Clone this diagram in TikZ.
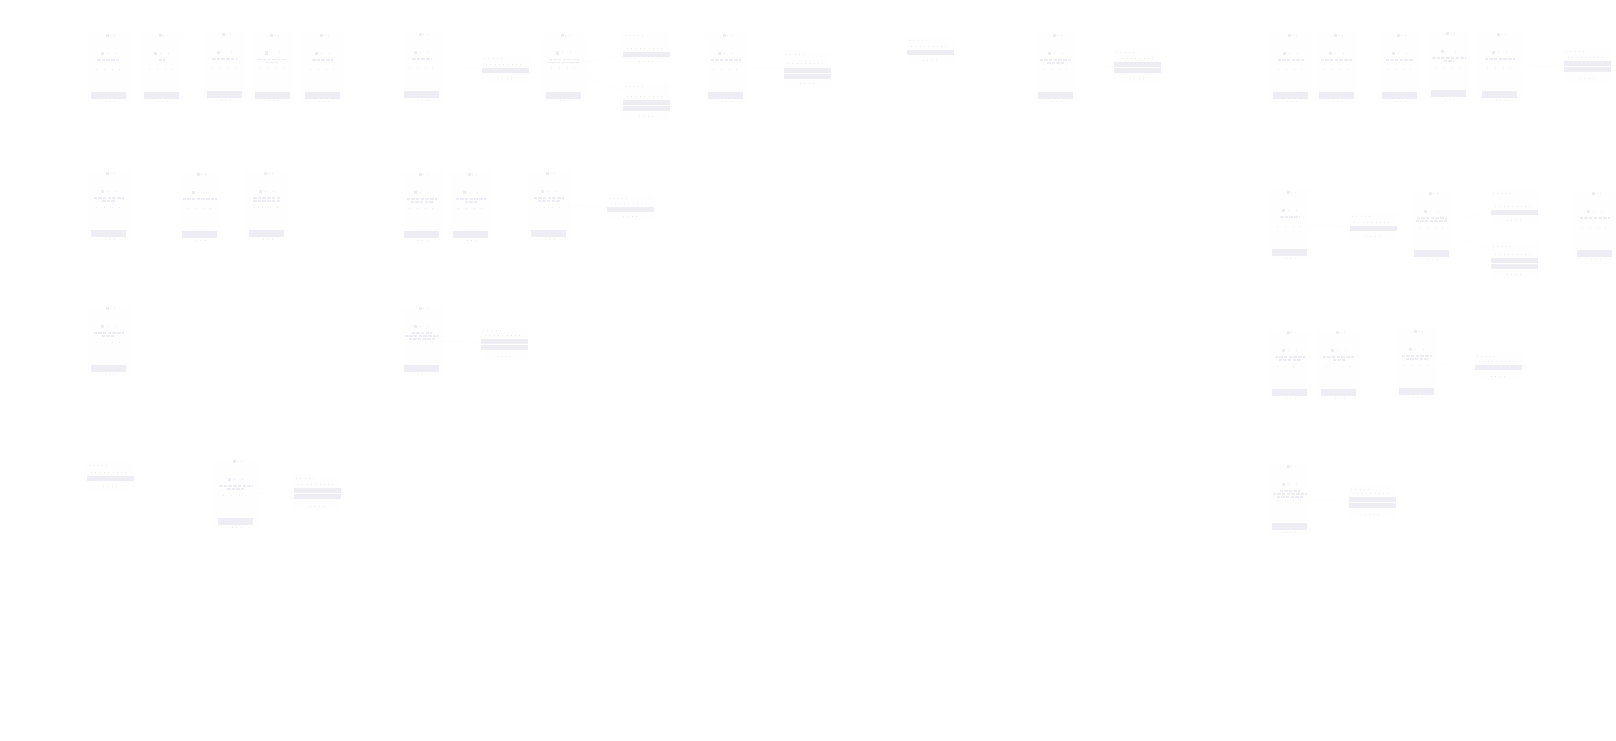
\documentclass[tikz,border=0pt]{standalone}
\definecolor{cardc}{HTML}{FEFEFE}
\definecolor{btnc}{HTML}{EDEDF3}
\definecolor{markc}{HTML}{ECECF2}
\definecolor{linkc}{HTML}{FDFDFE}
\tikzset{
  x=1pt,y=-1pt,
  cardbox/.style={fill=cardc,draw=none,inner sep=0pt,outer sep=0pt,minimum width=42pt,minimum height=69pt},
  dlgbox/.style={fill=cardc,draw=none,inner sep=0pt,outer sep=0pt},
  titlebar/.style={draw=markc,line width=1.2pt,dash pattern=on 3.5pt off 1.2pt},
  smalltext/.style={draw=markc,line width=.7pt,dash pattern=on .8pt off 3.5pt},
  sparsetext/.style={draw=markc,line width=.7pt,dash pattern=on .8pt off 7pt},
  linkline/.style={draw=linkc,line width=.8pt}
}
% name, button left, button top, width of the three title lines (0 = none)
\newcommand\phonecard[6]{%
  \node[cardbox] (#1) at ({#2+18},{#3-24.5}) {};
  \fill[btnc] (#2,#3) rectangle ({#2+35},{#3+7});
  \fill[markc] ({#2+15},{#3-58}) rectangle ({#2+18},{#3-55});
  \draw[smalltext] ({#2+18.5},{#3-56.5}) -- ({#2+23},{#3-56.5});
  \fill[markc] ({#2+10},{#3-40.5}) rectangle ({#2+13},{#3-37});
  \draw[sparsetext] ({#2+16},{#3-39}) -- ({#2+25},{#3-39});
  \ifdim#4pt>0pt \draw[titlebar] ({#2+17.5-#4/2},{#3-32}) -- ({#2+17.5+#4/2},{#3-32}); \fi
  \ifdim#5pt>0pt \draw[titlebar] ({#2+17.5-#5/2},{#3-29}) -- ({#2+17.5+#5/2},{#3-29}); \fi
  \ifdim#6pt>0pt \draw[titlebar] ({#2+17.5-#6/2},{#3-26}) -- ({#2+17.5+#6/2},{#3-26}); \fi
  \draw[sparsetext] ({#2+5},{#3-23}) -- ({#2+30},{#3-23});
  \draw[smalltext] ({#2+14},{#3+9}) -- ({#2+23},{#3+9});
}
% name, left, top, bottom, first button top, number of buttons
\newcommand\dialogcard[6]{%
  \node[dlgbox,minimum width=47pt,minimum height={(#4-#3)*1pt}] (#1) at ({#2+23.5},{(#3+#4)/2}) {};
  \draw[smalltext] ({#2+2},{#3+3}) -- ({#2+20},{#3+3});
  \draw[smalltext] ({#2+4},{#5-4}) -- ({#2+40},{#5-4});
  \fill[btnc] (#2,#5) rectangle ({#2+47},{#5+5});
  \ifnum#6>1 \fill[btnc] (#2,{#5+6}) rectangle ({#2+47},{#5+11}); \fi
  \draw[smalltext] ({#2+16},{#4-4}) -- ({#2+30},{#4-4});
}
\begin{document}
\begin{tikzpicture}
\useasboundingbox (0,0) rectangle (1616,740);
\fill[white] (0,0) rectangle (1616,740);
% row 1
\phonecard{a1}{91}{92}{23}{0}{0}
\phonecard{a2}{144}{92}{6}{0}{0}
\phonecard{a3}{207}{91}{25}{0}{0}
\phonecard{a4}{255}{91.5}{29}{14}{0}
\phonecard{a5}{305}{92}{21}{0}{0}
\phonecard{a6}{404}{91}{19}{0}{0}
\phonecard{a7}{546}{91.5}{30}{32}{0}
\phonecard{a8}{708}{92}{30}{0}{0}
\phonecard{a9}{1038}{92}{32}{17}{0}
\phonecard{b1}{1273}{92}{26}{0}{0}
\phonecard{b2}{1319}{92}{32}{0}{0}
\phonecard{b3}{1382}{92}{28}{0}{0}
\phonecard{b4}{1431}{90}{33}{10}{0}
\phonecard{b5}{1482}{91}{30}{0}{0}
% row 2
\phonecard{c1}{91}{230}{30}{13}{0}
\phonecard{c2}{182}{231}{34}{0}{0}
\phonecard{c3}{249}{230}{27}{27}{0}
\phonecard{c4}{404}{231}{30}{22}{0}
\phonecard{c5}{453}{231}{30}{12}{0}
\phonecard{c6}{531}{230}{30}{22}{0}
\phonecard{d1}{1272}{249}{19}{0}{0}
\phonecard{d2}{1414}{250}{30}{32}{0}
\phonecard{d3}{1577}{250}{30}{0}{0}
% row 3
\phonecard{e1}{91}{365}{30}{14}{0}
\phonecard{e2}{404}{365}{20}{34}{26}
\phonecard{f1}{1272}{389}{30}{22}{0}
\phonecard{f2}{1321}{389}{32}{12}{0}
\phonecard{f3}{1399}{388}{30}{22}{0}
% row 4
\phonecard{g1}{218}{518}{33}{17}{0}
\phonecard{h1}{1272}{523}{20}{34}{26}
% dialogs
\dialogcard{p1}{482}{55}{82}{68}{1}
\dialogcard{p2}{623}{32}{65}{52}{1}
\dialogcard{p3}{623}{83}{120}{100}{2}
\dialogcard{p4}{784}{51}{87}{67.5}{2}
\dialogcard{p5}{907}{37}{64}{50}{1}
\dialogcard{p6}{1114}{49}{82}{62}{2}
\dialogcard{p7}{1564}{48}{82}{61}{2}
\dialogcard{p8}{607}{195}{220}{207}{1}
\dialogcard{p9}{481}{327}{360}{339}{2}
\dialogcard{p10}{87}{462}{490}{476}{1}
\dialogcard{p11}{294}{475}{510}{488}{2}
\dialogcard{p12}{1350}{213}{240}{226}{1}
\dialogcard{p13}{1491}{190}{224}{210}{1}
\dialogcard{p14}{1491}{243}{278}{258}{2}
\dialogcard{p15}{1475}{353}{380}{365}{1}
\dialogcard{p16}{1349}{486}{518}{497}{2}
% connectors
\draw[linkline] (a6) -- (p1);
\draw[linkline] (a7) -- (p2);
\draw[linkline] (a7) -- (p3);
\draw[linkline] (a8) -- (p4);
\draw[linkline] (a9) -- (p6);
\draw[linkline] (b5) -- (p7);
\draw[linkline] (c6) -- (p8);
\draw[linkline] (e2) -- (p9);
\draw[linkline] (g1) -- (p11);
\draw[linkline] (d1) -- (p12);
\draw[linkline] (d2) -- (p13);
\draw[linkline] (d2) -- (p14);
\draw[linkline] (f3) -- (p15);
\draw[linkline] (h1) -- (p16);
\end{tikzpicture}
\end{document}
